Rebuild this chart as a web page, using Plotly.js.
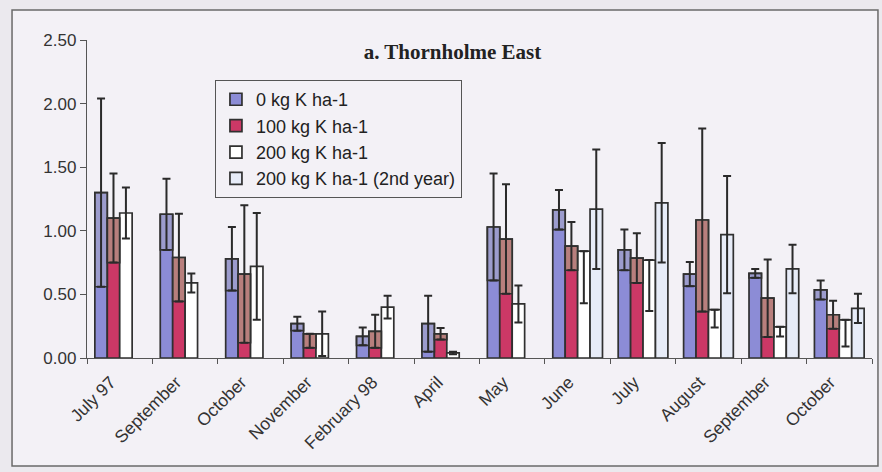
<!DOCTYPE html>
<html>
<head>
<meta charset="utf-8">
<script src="https://cdn.plot.ly/plotly-3.0.1.min.js"></script>
<style>
  html, body { margin: 0; padding: 0; background: #ebe9ee; }
  #chart { width: 882px; height: 472px; }
</style>
</head>
<body>
<div id="chart"></div>
<script>
// Sampling dates (first and second season)
var months = ['July 97', 'September', 'October', 'November', 'February 98', 'April',
              'May', 'June', 'July', 'August', 'September', 'October'];

// 0 kg K ha-1
var k0 = [1.30, 1.13, 0.78, 0.27, 0.17, 0.27, 1.03, 1.165, 0.85, 0.66, 0.665, 0.535];
var k0Err = [0.74, 0.28, 0.25, 0.055, 0.07, 0.22, 0.42, 0.155, 0.16, 0.095, 0.035, 0.075];

// 100 kg K ha-1
var k100 = [1.10, 0.79, 0.66, 0.19, 0.21, 0.19, 0.935, 0.88, 0.785, 1.085, 0.47, 0.34];
var k100ErrPlus = [0.35, 0.345, 0.54, 0, 0.13, 0.045, 0.43, 0.19, 0.195, 0.72, 0.305, 0.11];
var k100ErrMinus = [0.35, 0.345, 0.54, 0.11, 0.13, 0.045, 0.43, 0.19, 0.195, 0.72, 0.305, 0.11];

// 200 kg K ha-1
var k200 = [1.14, 0.59, 0.72, 0.19, 0.40, 0.04, 0.425, 0.84, 0.77, 0.38, 0.245, 0.30];
var k200ErrPlus = [0.20, 0.075, 0.42, 0.175, 0.09, 0.01, 0.145, 0, 0, 0, 0, 0];
var k200ErrMinus = [0.20, 0.075, 0.42, 0.175, 0.09, 0.01, 0.145, 0.41, 0.40, 0.14, 0.075, 0.21];

// 200 kg K ha-1 (2nd year)
var k200b = [null, null, null, null, null, null, null, 1.17, 1.22, 0.97, 0.70, 0.39];
var k200bErr = [null, null, null, null, null, null, null, 0.47, 0.47, 0.46, 0.19, 0.115];

var xs = months.map(function (m, i) { return i; });

var BAR_W = 0.19;
var offsets = [-2 * BAR_W, -BAR_W, 0, BAR_W];
var outline = { color: '#303030', width: 1.7 };

function errY(plus, minus) {
  return {
    type: 'data', symmetric: false, array: plus, arrayminus: minus,
    color: '#2a2a2a', thickness: 2, width: 4, visible: true
  };
}

function mainBar(name, y, color, slot, err) {
  var t = {
    type: 'bar', name: name, x: xs, y: y,
    width: BAR_W, offset: offsets[slot],
    marker: { color: color, line: outline },
    hoverinfo: 'skip'
  };
  if (err) t.error_y = err;
  return t;
}

// Upper band of a bar, from (mean - lower error) up to the mean, with a muted tint
function bandBar(y, errPlus, errMinus, color, slot) {
  return {
    type: 'bar', showlegend: false, x: xs,
    y: errMinus,
    base: y.map(function (v, i) { return v - errMinus[i]; }),
    width: BAR_W, offset: offsets[slot],
    marker: { color: color, line: outline },
    error_y: errY(errPlus, errMinus),
    hoverinfo: 'skip'
  };
}

var data = [
  mainBar('0 kg K ha-1', k0, '#8c8cd6', 0),
  mainBar('100 kg K ha-1', k100, '#cc3866', 1),
  mainBar('200 kg K ha-1', k200, '#ffffff', 2, errY(k200ErrPlus, k200ErrMinus)),
  mainBar('200 kg K ha-1 (2nd year)', k200b, '#e7ecf8', 3, errY(k200bErr, k200bErr)),
  bandBar(k0, k0Err, k0Err, 'rgba(175,175,195,0.45)', 0),
  bandBar(k100, k100ErrPlus, k100ErrMinus, 'rgba(170,175,140,0.6)', 1)
];

var layout = {
  width: 882, height: 472,
  margin: { l: 87, r: 10, t: 40, b: 114 },
  paper_bgcolor: '#ebe9ee',
  plot_bgcolor: 'rgba(0,0,0,0)',
  barmode: 'overlay',
  font: { family: 'Liberation Sans, Arial, sans-serif', color: '#2b2b2b' },
  title: {
    text: '<b>a. Thornholme East</b>',
    x: 0.513, xanchor: 'center', y: 0.89, yanchor: 'middle',
    font: { family: 'Liberation Serif, Times New Roman, serif', size: 21, color: '#222' }
  },
  xaxis: {
    range: [-0.5, 11.5],
    tickmode: 'array', tickvals: xs, ticktext: months,
    ticks: '', tickangle: -45,
    ticklabelstandoff: 6, ticklabelshift: -9,
    tickfont: { size: 17.5, color: '#333' },
    showline: true, linecolor: '#555', linewidth: 1.2,
    showgrid: false, zeroline: false,
    minor: { tickmode: 'linear', tick0: -0.5, dtick: 1, ticks: 'outside', ticklen: 5, tickcolor: '#555', tickwidth: 1, showgrid: false }
  },
  yaxis: {
    range: [0, 2.5], dtick: 0.5, tickformat: '.2f',
    ticks: 'outside', ticklen: 6, tickcolor: '#555',
    tickfont: { size: 17, color: '#333' },
    showline: true, linecolor: '#555', linewidth: 1.2,
    showgrid: false, zeroline: false
  },
  legend: {
    x: 0.163, xanchor: 'left', y: 0.874, yanchor: 'top',
    bgcolor: '#f3f1f6', bordercolor: '#555', borderwidth: 1,
    font: { size: 18, color: '#222' },
    traceorder: 'normal'
  },
  shapes: [{
    type: 'rect', xref: 'paper', yref: 'paper', layer: 'below',
    x0: -0.0955, x1: 1.0076, y0: -0.3396, y1: 1.0943,
    fillcolor: '#f3f1f6', line: { color: '#6a6a6a', width: 1.5 }
  }],
  showlegend: true
};

Plotly.newPlot('chart', data, layout, { displayModeBar: false, staticPlot: true });
</script>
</body>
</html>
